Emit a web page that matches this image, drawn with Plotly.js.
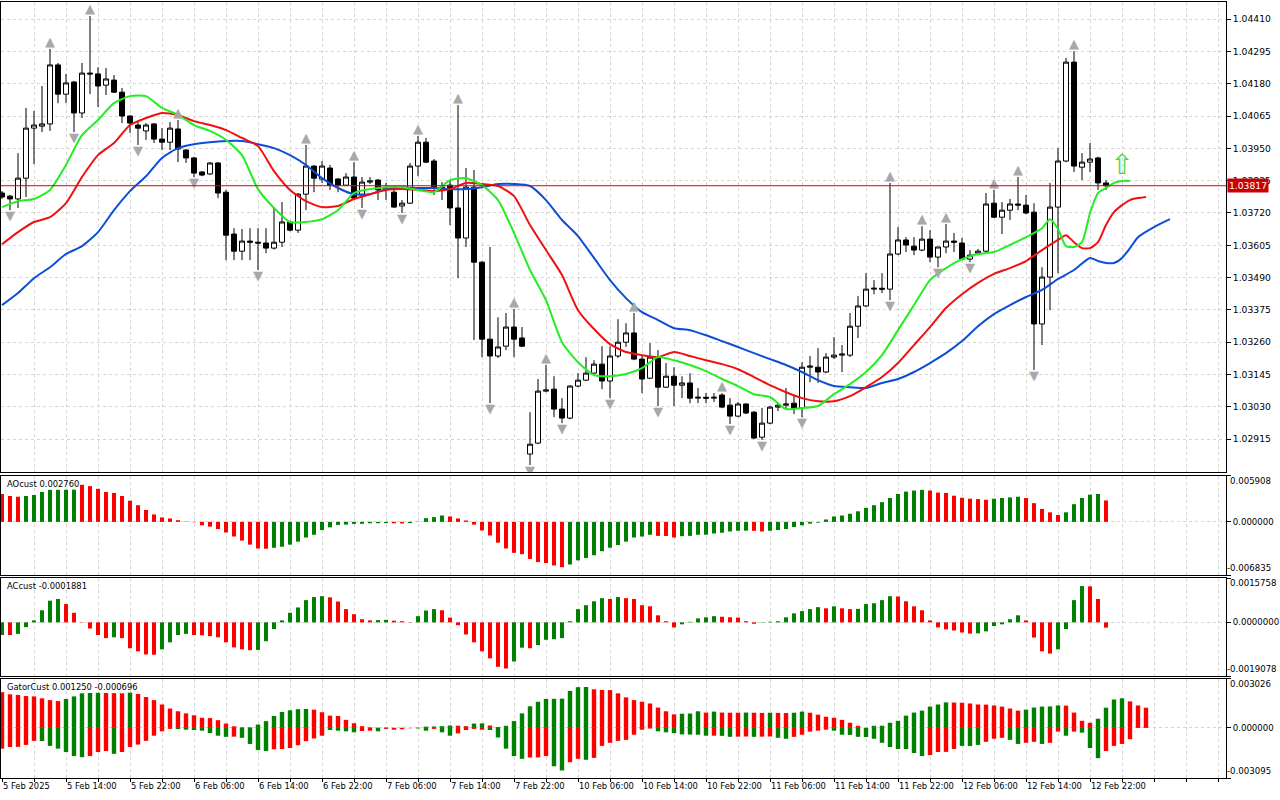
<!DOCTYPE html>
<html><head><meta charset="utf-8">
<script src="https://cdn.plot.ly/plotly-3.0.1.min.js"></script>
<style>html,body{margin:0;padding:0;background:#fff;}#chart{width:1280px;height:800px;}</style>
</head><body><div id="chart"></div>
<script>
// ---------- DATA ----------
const timeLabels = ["5 Feb 2025","5 Feb 14:00","5 Feb 22:00","6 Feb 06:00","6 Feb 14:00","6 Feb 22:00","7 Feb 06:00","7 Feb 14:00","7 Feb 22:00","10 Feb 06:00","10 Feb 14:00","10 Feb 22:00","11 Feb 06:00","11 Feb 14:00","11 Feb 22:00","12 Feb 06:00","12 Feb 14:00","12 Feb 22:00"];
const timeLabelBars = [0,8,16,24,32,40,48,56,64,72,80,88,96,104,112,120,128,136];
const priceTicks = [1.02915,1.03030,1.03145,1.03260,1.03375,1.03490,1.03605,1.03720,1.03835,1.03950,1.04065,1.04180,1.04295,1.04410];

const open = [1.03791,1.03780,1.03770,1.03844,1.04022,1.04029,1.04037,1.04247,1.04143,1.04186,
1.04076,1.04218,1.04215,1.04175,1.04193,1.04150,1.04065,1.04033,1.04012,1.04037,
1.03983,1.03972,1.04019,1.03944,1.03916,1.03866,1.03859,1.03898,1.03794,1.03645,
1.03584,1.03620,1.03616,1.03613,1.03595,1.03616,1.03688,1.03659,1.03787,1.03887,
1.03841,1.03880,1.03841,1.03819,1.03848,1.03784,1.03830,1.03837,1.03805,1.03794,
1.03745,1.03755,1.03887,1.03972,1.03905,1.03812,1.03819,1.03738,1.03631,1.03812,
1.03545,1.03271,1.03211,1.03246,1.03314,1.03275,1.02862,1.02901,1.03086,1.03093,
1.03022,1.02990,1.03104,1.03125,1.03150,1.03182,1.03122,1.03211,1.03260,1.03293,
1.03200,1.03132,1.03207,1.03100,1.03139,1.03107,1.03115,1.03061,1.03064,1.03061,
1.03072,1.03036,1.02997,1.03040,1.03011,1.02922,1.02972,1.03029,1.03036,1.03043,
1.03026,1.03171,1.03171,1.03154,1.03207,1.03214,1.03214,1.03317,1.03389,1.03449,
1.03452,1.03449,1.03574,1.03624,1.03602,1.03588,1.03627,1.03563,1.03599,1.03620,
1.03613,1.03556,1.03577,1.03584,1.03755,1.03705,1.03730,1.03752,1.03748,1.03723,
1.03325,1.03492,1.03741,1.03905,1.04257,1.03883,1.03901,1.03916,1.03827];
const high = [1.03798,1.03784,1.03933,1.04094,1.04083,1.04172,1.04304,1.04254,1.04215,1.04190,
1.04254,1.04421,1.04239,1.04236,1.04211,1.04165,1.04068,1.04044,1.04040,1.04040,
1.04022,1.04044,1.04051,1.03948,1.03920,1.03869,1.03901,1.03901,1.03802,1.03666,
1.03663,1.03666,1.03666,1.03666,1.03741,1.03759,1.03692,1.03791,1.03962,1.03890,
1.03905,1.03891,1.03844,1.03862,1.03901,1.03848,1.03848,1.03841,1.03827,1.03809,
1.03766,1.03898,1.03994,1.03987,1.03912,1.03830,1.03837,1.04104,1.03880,1.03873,
1.03548,1.03599,1.03349,1.03364,1.03378,1.03314,1.03011,1.03129,1.03179,1.03139,
1.03061,1.03107,1.03150,1.03207,1.03196,1.03246,1.03246,1.03342,1.03328,1.03364,
1.03214,1.03257,1.03232,1.03186,1.03171,1.03139,1.03150,1.03097,1.03079,1.03079,
1.03079,1.03061,1.03047,1.03043,1.03015,1.03026,1.03033,1.03043,1.03097,1.03072,
1.03189,1.03211,1.03239,1.03221,1.03278,1.03250,1.03364,1.03424,1.03506,1.03481,
1.03506,1.03827,1.03670,1.03634,1.03634,1.03673,1.03659,1.03599,1.03681,1.03649,
1.03631,1.03588,1.03592,1.03791,1.03802,1.03759,1.03770,1.03848,1.03784,1.03755,
1.03527,1.03827,1.03951,1.04272,1.04296,1.03933,1.03969,1.03920,1.03837];
const low = [1.03770,1.03730,1.03738,1.03777,1.03894,1.04008,1.04012,1.04111,1.04111,1.04008,
1.04058,1.04143,1.04097,1.04140,1.04147,1.04040,1.04005,1.03962,1.03980,1.03969,
1.03944,1.03944,1.03901,1.03898,1.03848,1.03851,1.03855,1.03773,1.03552,1.03552,
1.03552,1.03552,1.03517,1.03577,1.03590,1.03599,1.03655,1.03649,1.03730,1.03794,
1.03827,1.03802,1.03794,1.03816,1.03766,1.03738,1.03823,1.03766,1.03766,1.03738,
1.03720,1.03752,1.03851,1.03898,1.03784,1.03766,1.03677,1.03488,1.03599,1.03268,
1.03207,1.03043,1.03204,1.03232,1.03207,1.03243,1.02823,1.02897,1.03082,1.02993,
1.02972,1.02986,1.03100,1.03122,1.03147,1.03093,1.03061,1.03204,1.03243,1.03196,
1.03079,1.03129,1.03033,1.03097,1.03033,1.03061,1.03043,1.03043,1.03043,1.03047,
1.03025,1.02969,1.02993,1.03004,1.02915,1.02912,1.02968,1.03015,1.03022,1.03004,
1.02993,1.03118,1.03115,1.03150,1.03200,1.03154,1.03207,1.03275,1.03385,1.03431,
1.03435,1.03410,1.03570,1.03581,1.03570,1.03584,1.03545,1.03527,1.03577,1.03581,
1.03552,1.03545,1.03570,1.03581,1.03702,1.03645,1.03695,1.03730,1.03716,1.03161,
1.03250,1.03374,1.03506,1.03901,1.03866,1.03837,1.03866,1.03802,1.03802];
const close = [1.03777,1.03770,1.03844,1.04022,1.04033,1.04037,1.04247,1.04143,1.04183,1.04076,
1.04218,1.04215,1.04172,1.04197,1.04150,1.04065,1.04040,1.04022,1.04033,1.03983,
1.03972,1.04022,1.03948,1.03916,1.03862,1.03855,1.03898,1.03791,1.03641,1.03584,
1.03620,1.03616,1.03613,1.03595,1.03616,1.03688,1.03659,1.03787,1.03887,1.03844,
1.03887,1.03819,1.03819,1.03848,1.03773,1.03830,1.03834,1.03802,1.03809,1.03741,
1.03755,1.03887,1.03972,1.03901,1.03812,1.03805,1.03738,1.03631,1.03812,1.03545,
1.03271,1.03211,1.03243,1.03314,1.03271,1.03246,1.02897,1.03086,1.03090,1.03022,
1.02990,1.03104,1.03125,1.03150,1.03182,1.03122,1.03211,1.03260,1.03293,1.03200,
1.03129,1.03207,1.03100,1.03139,1.03107,1.03115,1.03061,1.03064,1.03061,1.03064,
1.03029,1.02997,1.03040,1.03008,1.02919,1.02972,1.03029,1.03036,1.03040,1.03026,
1.03171,1.03175,1.03154,1.03207,1.03214,1.03218,1.03317,1.03389,1.03449,1.03452,
1.03449,1.03574,1.03624,1.03606,1.03588,1.03627,1.03563,1.03599,1.03620,1.03616,
1.03556,1.03570,1.03584,1.03752,1.03705,1.03730,1.03752,1.03748,1.03720,1.03325,
1.03492,1.03741,1.03905,1.04257,1.03887,1.03901,1.03912,1.03827,1.03817];

// Alligator lines (jaw / teeth / lips)
const jawX = [0,2,4,6,8,10,12,14,16,18,20,22,24,26,28,30,32,34,36,38,40,42,44,46,48,50,52,54,56,58,60,62,64,66,68,70,72,74,76,78,80,82,84,86,88,90,92,94,96,98,100,102,104,106,108,110,112,114,116,118,120,122,124,126,128,130,132,134,136,137,138,139,140,141,142,144,146];
const jawY = [1.03392,1.03435,1.03488,1.03527,1.03574,1.03602,1.03652,1.03730,1.03798,1.03851,
1.03916,1.03951,1.03965,1.03972,1.03976,1.03976,1.03965,1.03951,1.03926,1.03891,
1.03844,1.03809,1.03787,1.03787,1.03805,1.03812,1.03809,1.03809,1.03805,1.03805,
1.03812,1.03823,1.03823,1.03816,1.03766,1.03695,1.03638,1.03560,1.03481,1.03417,
1.03367,1.03339,1.03310,1.03303,1.03285,1.03264,1.03243,1.03221,1.03200,1.03179,
1.03154,1.03125,1.03104,1.03100,1.03097,1.03115,1.03129,1.03154,1.03186,1.03221,
1.03264,1.03317,1.03360,1.03392,1.03421,1.03446,1.03485,1.03517,1.03560,
1.03549,1.03542,1.03542,1.03560,1.03595,1.03634,1.03670,1.03698];
const teethX = [0,2,4,6,8,10,12,14,16,18,20,22,24,26,28,30,32,34,36,38,40,42,44,46,48,50,52,54,56,58,60,62,64,66,68,70,72,74,76,78,80,82,84,86,88,90,92,94,96,98,100,102,104,106,108,110,112,114,116,118,120,122,124,126,128,130,132,133,134,135,136,137,138,139,140,141,142,143];
const teethY = [1.03609,1.03652,1.03688,1.03705,1.03755,1.03848,1.03926,1.03969,1.04033,1.04058,
1.04076,1.04069,1.04047,1.04033,1.04015,1.03987,1.03958,1.03869,1.03802,1.03762,
1.03741,1.03745,1.03770,1.03787,1.03802,1.03805,1.03802,1.03798,1.03805,1.03827,
1.03823,1.03816,1.03780,1.03677,1.03588,1.03499,1.03374,1.03307,1.03253,1.03225,
1.03214,1.03207,1.03225,1.03211,1.03196,1.03182,1.03164,1.03136,1.03107,1.03082,
1.03061,1.03050,1.03050,1.03068,1.03100,1.03136,1.03186,1.03250,1.03314,1.03382,
1.03431,1.03471,1.03503,1.03524,1.03549,1.03588,1.03624,
1.03641,1.03616,1.03595,1.03595,1.03616,1.03677,1.03723,1.03748,1.03766,1.03773,1.03777];
const lipsX = [0,2,4,6,8,10,12,14,16,18,20,22,24,26,28,30,32,34,36,38,40,42,44,46,48,50,52,54,56,58,60,62,64,66,68,70,72,74,76,78,80,82,84,86,88,90,92,94,96,98,100,102,104,106,108,110,112,114,116,118,120,122,124,126,128,130,131,132,133,134,135,136,137,138,139,140,141];
const lipsY = [1.03741,1.03762,1.03770,1.03802,1.03891,1.03997,1.04051,1.04111,1.04136,1.04136,
1.04094,1.04069,1.04033,1.04012,1.03980,1.03926,1.03805,1.03738,1.03688,1.03688,
1.03698,1.03730,1.03791,1.03805,1.03812,1.03812,1.03802,1.03794,1.03837,1.03844,
1.03819,1.03766,1.03649,1.03517,1.03410,1.03260,1.03189,1.03143,1.03139,1.03147,
1.03168,1.03207,1.03196,1.03179,1.03157,1.03129,1.03104,1.03075,1.03065,1.03022,
1.03026,1.03033,1.03075,1.03111,1.03154,1.03214,1.03303,1.03392,1.03481,1.03524,
1.03556,1.03574,1.03581,1.03606,1.03634,1.03666,
1.03698,1.03663,1.03602,1.03599,1.03616,1.03720,1.03791,1.03809,1.03827,1.03834,1.03834];

const fractalUpBars = [6,11,22,38,44,52,57,64,68,79,90,111,115,118,124,127,134];
const fractalDownBars = [1,9,17,24,32,45,50,61,66,70,76,82,91,95,100,111,117,121,129];
const signalBar = 140;

// Awesome oscillator
const ao = [0.00359,0.00333,0.00324,0.00333,0.00346,0.00385,0.00412,0.00413,0.00414,0.00415,
0.00477,0.00460,0.00425,0.00385,0.00372,0.00333,0.00272,0.00215,0.00153,0.00096,
0.00057,0.00044,0.00022,0.00004,-0.00004,-0.00044,-0.00061,-0.00092,-0.00136,-0.00188,
-0.00241,-0.00293,-0.00342,-0.00346,-0.00333,-0.00320,-0.00293,-0.00254,-0.00201,-0.00166,
-0.00105,-0.00070,-0.00039,-0.00035,-0.00026,-0.00025,-0.00018,-0.00017,-0.00016,-0.00018,
-0.00020,-0.00015,0.00003,0.00048,0.00061,0.00083,0.00070,0.00044,0.00018,-0.00035,
-0.00110,-0.00175,-0.00267,-0.00342,-0.00399,-0.00416,-0.00477,-0.00517,-0.00530,-0.00561,
-0.00583,-0.00548,-0.00495,-0.00464,-0.00429,-0.00377,-0.00333,-0.00298,-0.00254,-0.00201,
-0.00188,-0.00166,-0.00180,-0.00181,-0.00201,-0.00184,-0.00180,-0.00166,-0.00165,-0.00149,
-0.00140,-0.00123,-0.00114,-0.00113,-0.00115,-0.00123,-0.00114,-0.00105,-0.00092,-0.00066,
-0.00044,-0.00022,-0.00009,0.00031,0.00070,0.00083,0.00105,0.00136,0.00180,0.00215,
0.00254,0.00307,0.00359,0.00390,0.00403,0.00412,0.00403,0.00377,0.00372,0.00337,
0.00311,0.00298,0.00293,0.00285,0.00298,0.00307,0.00315,0.00324,0.00307,0.00241,
0.00166,0.00123,0.00088,0.00123,0.00228,0.00307,0.00350,0.00359,0.00276];
const aoColorIdx = [1,1,1,0,0,0,0,0,0,0, 1,1,1,1,1,1,1,1,1,1, 1,1,1,1,1,1,1,1,1,1, 1,1,1,1,0,0,0,0,0,0,
0,0,0,0,0,0,0,0,0,1, 1,0,0,0,0,0,1,1,1,1, 1,1,1,1,1,1,1,1,1,1, 1,0,0,0,0,0,0,0,0,0,
0,0,1,1,1,0,0,0,0,0, 0,0,0,0,1,1,0,0,0,0, 0,0,0,0,0,0,0,0,0,0, 0,0,0,0,0,0,1,1,1,1,
1,1,1,1,0,0,0,0,1,1, 1,1,1,0,0,0,0,0,1];

// Accelerator oscillator
const ac = [-0.00045,-0.00045,-0.00041,-0.00017,0.00007,0.00043,0.00077,0.00083,0.00065,0.00034,
0.00001,-0.00022,-0.00045,-0.00056,-0.00053,-0.00056,-0.00092,-0.00103,-0.00114,-0.00115,
-0.00096,-0.00071,-0.00045,-0.00041,-0.00045,-0.00046,-0.00049,-0.00053,-0.00071,-0.00089,
-0.00096,-0.00099,-0.00098,-0.00067,-0.00024,0.00007,0.00034,0.00053,0.00079,0.00090,
0.00093,0.00089,0.00074,0.00047,0.00029,0.00011,0.00007,0.00008,0.00009,0.00006,
0.00004,0.00001,0.00022,0.00042,0.00047,0.00043,0.00017,-0.00010,-0.00043,-0.00071,
-0.00103,-0.00128,-0.00158,-0.00164,-0.00139,-0.00090,-0.00092,-0.00081,-0.00062,-0.00060,
-0.00056,0.00004,0.00047,0.00061,0.00075,0.00086,0.00083,0.00090,0.00086,0.00083,
0.00061,0.00057,0.00025,0.00004,-0.00018,-0.00007,0.00002,0.00014,0.00018,0.00022,
0.00020,0.00018,0.00017,0.00004,-0.00005,-0.00001,0.00002,0.00004,0.00018,0.00032,
0.00040,0.00047,0.00054,0.00050,0.00057,0.00050,0.00047,0.00048,0.00065,0.00068,
0.00079,0.00093,0.00092,0.00075,0.00057,0.00043,0.00007,-0.00018,-0.00025,-0.00029,
-0.00036,-0.00040,-0.00039,-0.00032,-0.00013,-0.00007,0.00011,0.00025,0.00007,-0.00054,
-0.00103,-0.00111,-0.00096,-0.00024,0.00079,0.00129,0.00128,0.00083,-0.0001881];
const acColorIdx = [0,1,0,0,0,0,0,0,1,1, 1,1,1,1,0,1,1,1,1,1, 0,0,0,0,1,1,1,1,1,1, 1,1,0,0,0,0,0,0,0,0,
0,1,1,1,1,1,1,0,0,1, 1,1,0,0,0,1,1,1,1,1, 1,1,1,1,0,0,1,0,0,0, 0,0,0,0,0,0,1,0,1,1,
1,1,1,1,1,0,0,0,0,0, 1,1,1,1,1,0,0,0,0,0, 0,0,0,1,0,1,1,0,0,0, 0,0,1,1,1,1,1,1,1,1,
1,1,0,0,0,0,0,0,1,1, 1,1,0,0,0,0,1,1,1];

// Gator oscillator
const gatorUp = [0.00221,0.00208,0.00204,0.00197,0.00195,0.00183,0.00172,0.00166,0.00179,0.00195,
0.00214,0.00216,0.00217,0.00216,0.00215,0.00214,0.00218,0.00210,0.00191,0.00172,
0.00145,0.00120,0.00103,0.00090,0.00078,0.00063,0.00061,0.00048,0.00027,0.00010,
0.00004,0.00004,0.00021,0.00042,0.00074,0.00099,0.00109,0.00116,0.00117,0.00113,
0.00097,0.00076,0.00074,0.00050,0.00029,0.00011,0.00004,0.00002,0.00003,0.00001,
0.00001,0.00000,0.00002,0.00008,0.00009,0.00011,0.00015,0.00014,0.00011,0.00027,
0.00028,0.00015,0.00006,0.00013,0.00042,0.00090,0.00134,0.00162,0.00179,0.00180,
0.00181,0.00229,0.00252,0.00253,0.00239,0.00235,0.00234,0.00214,0.00189,0.00172,
0.00162,0.00151,0.00126,0.00103,0.00084,0.00088,0.00089,0.00103,0.00095,0.00101,
0.00095,0.00094,0.00094,0.00095,0.00094,0.00093,0.00094,0.00093,0.00092,0.00094,
0.00101,0.00094,0.00082,0.00069,0.00063,0.00050,0.00032,0.00013,0.00001,0.00013,
0.00014,0.00032,0.00044,0.00076,0.00095,0.00107,0.00132,0.00145,0.00158,0.00157,
0.00156,0.00151,0.00145,0.00144,0.00139,0.00132,0.00120,0.00107,0.00113,0.00126,
0.00132,0.00133,0.00139,0.00138,0.00095,0.00044,0.00032,0.00057,0.00125,0.00176,
0.00183,0.00164,0.00139,0.00125];
const gatorUpColorIdx = [1,1,1,1,1,1,1,1,0,0, 0,0,0,1,1,1,0,1,1,1, 1,1,1,1,1,1,1,1,1,1, 1,0,0,0,0,0,0,0,0,1,
1,1,1,1,1,1,1,1,0,1, 1,1,0,0,0,0,0,1,1,0, 0,1,1,0,0,0,0,0,0,0, 0,0,0,0,1,1,1,1,1,1,
1,1,1,1,1,0,0,0,1,0, 1,1,1,0,1,1,0,1,1,0, 0,1,1,1,1,1,1,1,1,0, 0,0,0,0,0,0,0,0,0,1,
1,1,1,1,1,1,1,1,0,0, 0,0,0,1,1,1,1,0,0,0, 0,1,1,1];
const gatorDown = [-0.00128,-0.00118,-0.00117,-0.00105,-0.00080,-0.00081,-0.00111,-0.00128,-0.00149,-0.00174,
-0.00181,-0.00174,-0.00149,-0.00143,-0.00160,-0.00149,-0.00118,-0.00103,-0.00080,-0.00048,
-0.00021,-0.00006,-0.00007,-0.00011,-0.00013,-0.00017,-0.00032,-0.00048,-0.00055,-0.00054,
-0.00061,-0.00099,-0.00137,-0.00143,-0.00132,-0.00131,-0.00124,-0.00107,-0.00082,-0.00065,
-0.00048,-0.00013,-0.00017,-0.00021,-0.00027,-0.00019,-0.00017,-0.00021,-0.00006,-0.00011,
-0.00008,-0.00002,-0.00003,-0.00017,-0.00006,-0.00027,-0.00048,-0.00034,-0.00013,-0.00006,
-0.00011,-0.00013,-0.00059,-0.00128,-0.00174,-0.00191,-0.00183,-0.00182,-0.00174,-0.00237,
-0.00263,-0.00212,-0.00191,-0.00197,-0.00185,-0.00111,-0.00092,-0.00080,-0.00074,-0.00042,
-0.00011,-0.00004,-0.00021,-0.00027,-0.00032,-0.00040,-0.00041,-0.00042,-0.00048,-0.00048,
-0.00049,-0.00055,-0.00054,-0.00053,-0.00055,-0.00054,-0.00053,-0.00061,-0.00067,-0.00055,
-0.00042,-0.00023,-0.00017,-0.00011,-0.00017,-0.00042,-0.00043,-0.00055,-0.00056,-0.00067,
-0.00092,-0.00118,-0.00130,-0.00131,-0.00155,-0.00174,-0.00168,-0.00149,-0.00148,-0.00130,
-0.00111,-0.00112,-0.00105,-0.00086,-0.00067,-0.00061,-0.00074,-0.00099,-0.00092,-0.00086,
-0.00099,-0.00092,-0.00023,-0.00048,-0.00023,-0.00029,-0.00124,-0.00187,-0.00143,-0.00111,
-0.00099,-0.000696];
const gatorDownColorIdx = [1,1,1,1,1,0,0,0,0,0, 0,1,1,1,0,1,1,1,1,1, 1,1,0,0,0,0,0,0,0,1, 0,0,0,0,1,1,1,1,1,1,
1,0,0,0,0,1,1,0,1,1, 1,1,0,0,1,0,0,1,1,1, 1,0,0,0,0,0,1,1,1,0, 0,1,1,0,1,1,1,1,1,1,
1,1,0,0,0,0,0,0,0,1, 0,0,1,1,0,1,1,0,0,1, 1,1,1,1,0,0,0,0,0,0, 0,0,0,0,0,0,1,1,1,1,
0,0,0,1,1,1,0,0,1,1, 0,1,1,0,1,0,0,0,1,1, 1,1];

// Pane ranges (as printed on the right scale)
const aoRange = [-0.006835, 0.005908];
const acRange = [-0.0019078, 0.0015758];
const gatorRange = [-0.003095, 0.003026];

// ---------- BUILD ----------
const GREEN = '#008000', RED = '#ff0000';
const toColors = idx => idx.map(c => c === 0 ? GREEN : RED);
const idx = arr => arr.map((_, i) => i);
const bars = idx(open);
const last = close.length - 1;
const FONT = 'DejaVu Sans';
const AXFONT = {family:FONT, size:9.2, color:'#000'};
const INDFONT = {family:FONT, size:8.6, color:'#000'};

const traces = [
  {type:'candlestick', x:bars, open:open, high:high, low:low, close:close,
   increasing:{line:{color:'#000', width:1}, fillcolor:'#ffffff'},
   decreasing:{line:{color:'#000', width:1}, fillcolor:'#000000'},
   whiskerwidth:0, xaxis:'x', yaxis:'y', hoverinfo:'skip', showlegend:false},
  {type:'scatter', mode:'lines', x:jawX, y:jawY, line:{color:'#0b4fd6', width:2, shape:'spline', smoothing:0.6}, xaxis:'x', yaxis:'y', hoverinfo:'skip'},
  {type:'scatter', mode:'lines', x:teethX, y:teethY, line:{color:'#f01010', width:2, shape:'spline', smoothing:0.6}, xaxis:'x', yaxis:'y', hoverinfo:'skip'},
  {type:'scatter', mode:'lines', x:lipsX, y:lipsY, line:{color:'#22ee22', width:2, shape:'spline', smoothing:0.6}, xaxis:'x', yaxis:'y', hoverinfo:'skip'},
  {type:'scatter', mode:'text', x:fractalUpBars, y:fractalUpBars.map(i => high[i]), text:fractalUpBars.map(() => '▲'),
   textposition:'top center', textfont:{family:FONT, size:13, color:'#a8a8a8'}, xaxis:'x', yaxis:'y', hoverinfo:'skip'},
  {type:'scatter', mode:'text', x:fractalDownBars, y:fractalDownBars.map(i => low[i]), text:fractalDownBars.map(() => '▼'),
   textposition:'bottom center', textfont:{family:FONT, size:13, color:'#a8a8a8'}, xaxis:'x', yaxis:'y', hoverinfo:'skip'},
  {type:'scatter', mode:'text', x:[signalBar], y:[lipsY[lipsX.indexOf(signalBar)]], text:['⇧'],
   textposition:'top center', textfont:{family:FONT, size:28, color:'#4cd84c'}, xaxis:'x', yaxis:'y', hoverinfo:'skip'},
  {type:'bar', x:idx(ao), y:ao, marker:{color:toColors(aoColorIdx), line:{width:0}}, width:0.5, xaxis:'x2', yaxis:'y2', hoverinfo:'skip'},
  {type:'bar', x:idx(ac), y:ac, marker:{color:toColors(acColorIdx), line:{width:0}}, width:0.5, xaxis:'x3', yaxis:'y3', hoverinfo:'skip'},
  {type:'bar', x:idx(gatorUp), y:gatorUp, marker:{color:toColors(gatorUpColorIdx), line:{width:0}}, width:0.55, xaxis:'x4', yaxis:'y4', hoverinfo:'skip'},
  {type:'bar', x:idx(gatorDown), y:gatorDown, marker:{color:toColors(gatorDownColorIdx), line:{width:0}}, width:0.55, xaxis:'x4', yaxis:'y4', hoverinfo:'skip'}
];

// x ticks: grid every 4 bars, labels every 8 bars
const xRange = [-0.125, 153.0];
const gridVals = [], gridText = [];
for (let b = 0; b <= 152; b += 4) {
  gridVals.push(b);
  const k = timeLabelBars.indexOf(b);
  gridText.push(k >= 0 ? timeLabels[k] : '');
}
const gridStyle = {showgrid:true, gridcolor:'#d6d6d6', griddash:'3px,3px', gridwidth:1};
const frame = {showline:true, mirror:true, linecolor:'#000', linewidth:1, zeroline:false};

function xAxis(anchor, labels) {
  return Object.assign({
    range:xRange, anchor:anchor, tickmode:'array', tickvals:gridVals, ticktext:gridText,
    showticklabels:labels, ticks: labels ? 'outside' : '', ticklen:3, tickcolor:'#000',
    tickangle:0, ticklabelposition:'outside right',
    tickfont:{family:FONT, size:8.4, color:'#000'}, fixedrange:true
  }, gridStyle, frame);
}
// main price axis: labels at every tick
function yAxisMain(domain, range, vals, digits) {
  return Object.assign({
    domain:domain, range:range, anchor:'x', side:'right', tickmode:'array',
    tickvals:vals, ticktext:vals.map(v => v.toFixed(digits)),
    ticks:'outside', ticklen:4, tickcolor:'#000', tickfont:AXFONT, fixedrange:true
  }, gridStyle, frame);
}
// indicator axes: tick marks at both edges and zero; edge labels drawn inside the pane as annotations
function yAxisInd(anchor, domain, range, digits) {
  return Object.assign({
    domain:domain, range:range, anchor:anchor, side:'right', tickmode:'array',
    tickvals:[range[0], 0, range[1]], ticktext:['', (0).toFixed(digits), ''],
    ticks:'outside', ticklen:4, tickcolor:'#000', tickfont:INDFONT, fixedrange:true
  }, gridStyle, frame);
}
function edgeLabels(yname, range, digits) {
  return [
    {xref:'paper', x:1, xanchor:'left', xshift:3, yref:yname + ' domain', y:1, yanchor:'top', yshift:1,
     text:range[1].toFixed(digits), showarrow:false, font:INDFONT, borderpad:0},
    {xref:'paper', x:1, xanchor:'left', xshift:0, yref:yname + ' domain', y:0, yanchor:'bottom', yshift:1,
     text:range[0].toFixed(digits), showarrow:false, font:INDFONT, borderpad:0}
  ];
}

const headFont = {family:FONT, size:8.4, color:'#000'};
const layout = {
  width:1280, height:800, paper_bgcolor:'#fff', plot_bgcolor:'#fff',
  margin:{l:1, r:54, t:2, b:22}, showlegend:false, hovermode:false,
  barmode:'overlay', boxgap:0.2, boxgroupgap:0.22,
  font:{family:FONT, size:9, color:'#000'},
  xaxis: Object.assign(xAxis('y', false), {rangeslider:{visible:false}}),
  xaxis2: xAxis('y2', false),
  xaxis3: xAxis('y3', false),
  xaxis4: xAxis('y4', true),
  yaxis: yAxisMain([0.3943, 1], [1.02798, 1.04471], priceTicks, 5),
  yaxis2: yAxisInd('x2', [0.2616, 0.3892], aoRange, 6),
  yaxis3: yAxisInd('x3', [0.1314, 0.2577], acRange, 7),
  yaxis4: yAxisInd('x4', [0, 0.1276], gatorRange, 6),
  shapes:[
    {type:'line', xref:'x domain', yref:'y', x0:0, x1:1, y0:close[last], y1:close[last], line:{color:'#e00000', width:1}, layer:'above'}
  ],
  annotations:[
    {xref:'paper', x:1, xanchor:'left', xshift:1, yref:'y', y:close[last], text:close[last].toFixed(5),
     showarrow:false, bgcolor:'#cc0000', borderpad:1, font:{family:FONT, size:9.2, color:'#fff'}},
    {xref:'paper', x:0, xanchor:'left', xshift:4, yref:'y2 domain', y:1, yanchor:'top', yshift:-1,
     text:'AOcust ' + ao[ao.length-1].toFixed(6), showarrow:false, font:headFont},
    {xref:'paper', x:0, xanchor:'left', xshift:4, yref:'y3 domain', y:1, yanchor:'top', yshift:-1,
     text:'ACcust ' + ac[ac.length-1].toFixed(7), showarrow:false, font:headFont},
    {xref:'paper', x:0, xanchor:'left', xshift:4, yref:'y4 domain', y:1, yanchor:'top', yshift:-1,
     text:'GatorCust ' + gatorUp[gatorUp.length-1].toFixed(6) + ' ' + gatorDown[gatorDown.length-1].toFixed(6),
     showarrow:false, font:headFont}
  ].concat(edgeLabels('y2', aoRange, 6), edgeLabels('y3', acRange, 7), edgeLabels('y4', gatorRange, 6))
};

Plotly.newPlot('chart', traces, layout, {displayModeBar:false, staticPlot:true});
</script>
</body></html>
